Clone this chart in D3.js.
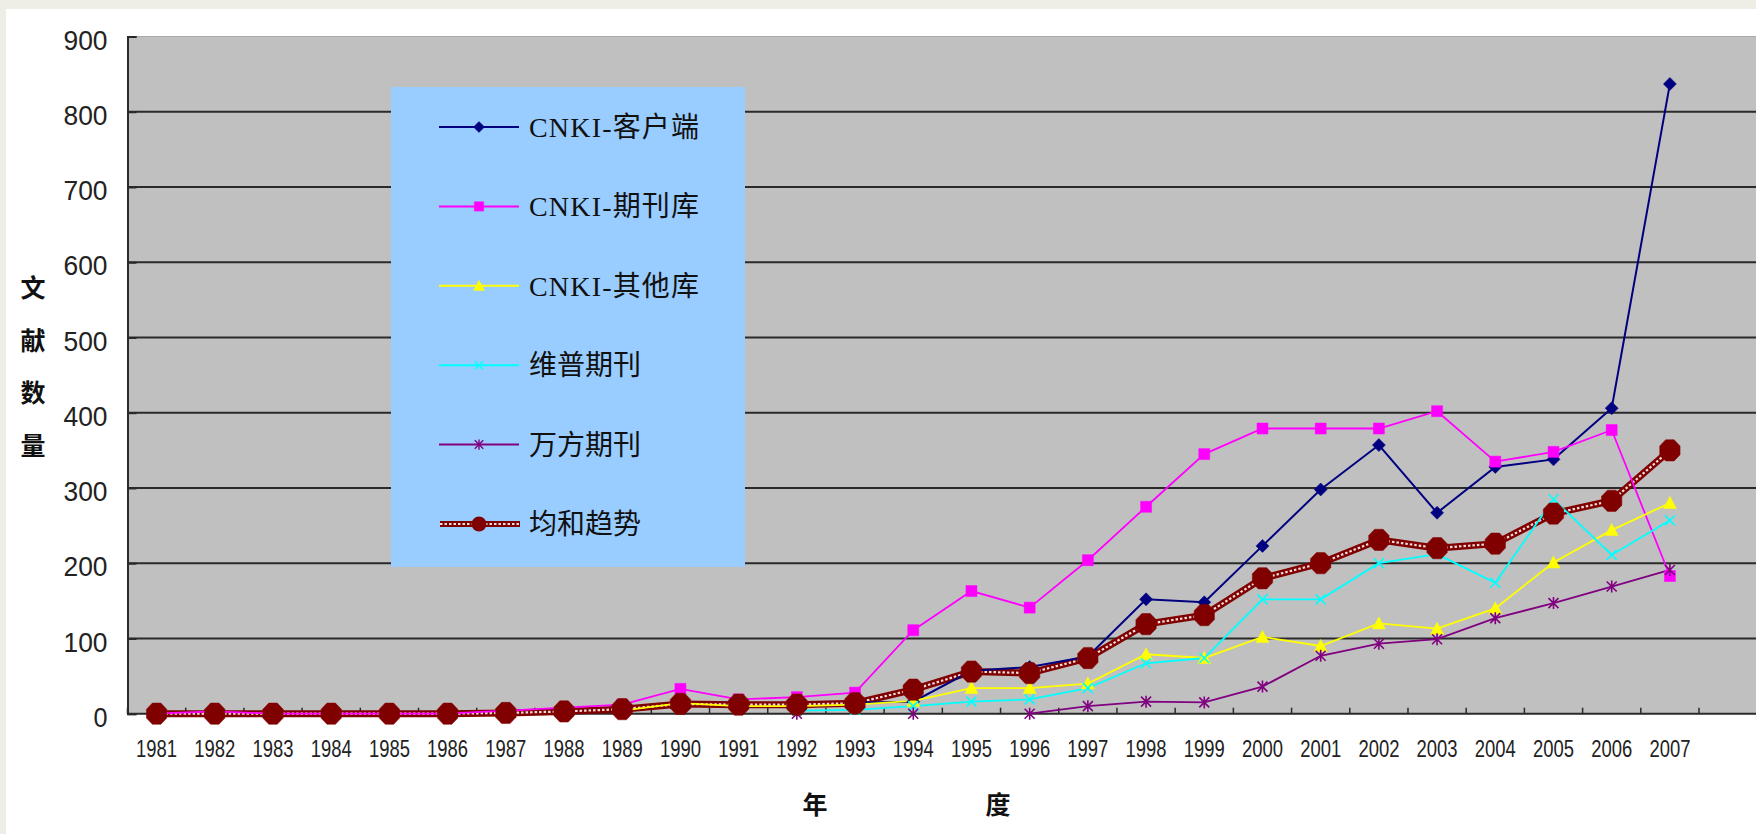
<!DOCTYPE html>
<html><head><meta charset="utf-8">
<script src="https://cdn.jsdelivr.net/npm/d3@7"></script>
<style>html,body{margin:0;padding:0;background:#EFEEE6;overflow:hidden}</style>
</head><body>
<svg id="c" width="1756" height="834"></svg>
<script>
// ---------------- data ----------------
const years = ["1981","1982","1983","1984","1985","1986","1987","1988","1989","1990","1991","1992","1993","1994","1995","1996","1997","1998","1999","2000","2001","2002","2003","2004","2005","2006","2007"];
const seriesNames = ["CNKI-客户端","CNKI-期刊库","CNKI-其他库","维普期刊","万方期刊","均和趋势"];
const cnkiClient = [null,null,null,null,null,null,null,null,null,null,null,null,15,16,57,62,76,152,148,223,298,357,267,328,338,406,837];
const cnkiJournal = [0,3,0,0,0,0,4,8,12,33,19,22,28,111,163,141,204,275,345,379,379,379,402,335,348,377,183];
const cnkiOther = [null,null,null,null,null,null,null,null,4,14,10,10,12,17,34,34,40,79,74,102,90,120,113,140,201,244,280];
const vip = [null,null,null,null,null,null,null,null,null,null,null,4,5,10,16,19,34,67,74,152,152,200,212,174,285,211,257];
const wanfang = [null,null,null,null,null,null,null,null,null,null,null,0,null,0,null,0,10,16,15,36,77,93,99,127,147,169,191];
const trend = [0,0,0,0,0,0,1,3,6,13,12,12,14,32,56,54,74,119,131,180,200,231,220,226,266,283,350];
const yTicks = [0,100,200,300,400,500,600,700,800,900];
const yTitle = ["文","献","数","量"];
const xTitle = ["年","度"];

// ---------------- styles ----------------
const colors = ["#000080","#FF00FF","#FFFF00","#00FFFF","#800080","#800000"];
const markers = ["diamond","square","triangle","x","star","octagon"];
const seriesData = [cnkiClient, cnkiJournal, cnkiOther, vip, wanfang];

const svg = d3.select("#c");
svg.append("rect").attr("x",6).attr("y",9).attr("width",1750).attr("height",825).attr("fill","#fff");

const plot = {left:127.5, top:36.5, bottom:713.7, right:1699, edge:1756};
const x = d3.scaleBand().domain(years).range([plot.left, plot.right]).padding(0);
const y = d3.scaleLinear().domain([0,900]).range([plot.bottom, plot.top]);
const cx = d => x(d) + x.bandwidth()/2;

// plot background
svg.append("rect").attr("x",plot.left).attr("y",plot.top)
  .attr("width",plot.edge-plot.left).attr("height",plot.bottom-plot.top)
  .attr("fill","#C0C0C0");
svg.append("line").attr("x1",plot.left).attr("x2",plot.edge).attr("y1",plot.top).attr("y2",plot.top)
  .attr("stroke","#a8a8a8").attr("stroke-width",1);

// gridlines
svg.append("g").selectAll("line").data(yTicks.filter(t=>t>0 && t<900)).join("line")
  .attr("x1",plot.left).attr("x2",plot.edge)
  .attr("y1",d=>y(d)).attr("y2",d=>y(d))
  .attr("stroke","#2a2a2a").attr("stroke-width",2);

// y axis
const yAxis = svg.append("g").attr("transform",`translate(${plot.left},0)`)
  .call(d3.axisLeft(y).tickValues(yTicks).tickSize(-9).tickPadding(20));
yAxis.select(".domain").attr("stroke","#2a2a2a").attr("stroke-width",2);
yAxis.selectAll(".tick line").attr("stroke","#2a2a2a").attr("stroke-width",2);
yAxis.selectAll("text").attr("font-family","'Liberation Sans',Arial,sans-serif")
  .attr("font-size",28).attr("fill","#222").attr("dy","0.45em")
  .each(function(d){ if(d>=100) d3.select(this).attr("textLength",44).attr("lengthAdjust","spacingAndGlyphs");
                     else d3.select(this).attr("textLength",14).attr("lengthAdjust","spacingAndGlyphs"); });

// x axis
const xAxis = svg.append("g").attr("transform",`translate(0,${plot.bottom})`)
  .call(d3.axisBottom(x).tickSize(0));
xAxis.select(".domain").remove();
xAxis.selectAll("text").attr("font-family","'Liberation Sans',Arial,sans-serif")
  .attr("font-size",23).attr("fill","#222").attr("y",43).attr("dy",0)
  .attr("textLength",41).attr("lengthAdjust","spacingAndGlyphs");
svg.append("line").attr("x1",plot.left).attr("x2",plot.edge).attr("y1",plot.bottom).attr("y2",plot.bottom)
  .attr("stroke","#2a2a2a").attr("stroke-width",2);
const bounds = years.map(d=>x(d)).concat([x(years[years.length-1])+x.bandwidth()]);
svg.append("g").selectAll("line").data(bounds).join("line")
  .attr("x1",d=>d).attr("x2",d=>d).attr("y1",plot.bottom).attr("y2",plot.bottom-6)
  .attr("stroke","#2a2a2a").attr("stroke-width",1.5);

// axis titles
svg.append("g").selectAll("text").data(yTitle).join("text")
  .attr("x",33).attr("y",(d,i)=>286+i*52.5).attr("dominant-baseline","central").attr("text-anchor","middle")
  .attr("font-family","'Noto Sans CJK SC',sans-serif").attr("font-weight","bold").attr("font-size",25).attr("fill","#111")
  .text(d=>d);
svg.append("g").selectAll("text").data(xTitle).join("text")
  .attr("x",(d,i)=>i===0?815:998).attr("y",803).attr("dominant-baseline","central").attr("text-anchor","middle")
  .attr("font-family","'Noto Sans CJK SC',sans-serif").attr("font-weight","bold").attr("font-size",25).attr("fill","#111")
  .text(d=>d);

// marker paths
function markerPath(type){
  switch(type){
    case "diamond": return "M0,-6.5L6.5,0L0,6.5L-6.5,0Z";
    case "square": return "M-5.5,-5.5H5.5V5.5H-5.5Z";
    case "triangle": return "M0,-6.5L6.5,5.5H-6.5Z";
    case "x": return "M-5,-5L5,5M5,-5L-5,5";
    case "star": return "M-5,-5L5,5M5,-5L-5,5M0,-6V6";
    case "octagon": {
      const pts=[]; for(let k=0;k<8;k++){const a=Math.PI/8+k*Math.PI/4; pts.push([11*Math.cos(a),11.5*Math.sin(a)]);}
      return "M"+pts.map(p=>p.join(",")).join("L")+"Z";
    }
  }
}
function drawMarker(g, type, color, scale){
  const p = g.append("path").attr("d",markerPath(type));
  if(scale) p.attr("transform",`scale(${scale})`);
  if(type==="x"||type==="star") p.attr("fill","none").attr("stroke",color).attr("stroke-width",1.6);
  else p.attr("fill",color).attr("stroke",color).attr("stroke-width",0.5);
}

const line = d3.line().defined(d=>d.v!==null).x(d=>cx(d.year)).y(d=>y(d.v));
const toPts = arr => years.map((yr,i)=>({year:yr, v:arr[i]}));

// trend line (bottom)
const trendPts = toPts(trend);
svg.append("path").attr("d",line(trendPts)).attr("fill","none").attr("stroke","#800000").attr("stroke-width",7);
svg.append("path").attr("d",line(trendPts)).attr("fill","none").attr("stroke","#f2dcdc").attr("stroke-width",2.2).attr("stroke-dasharray","2.5,2");

// other series lines
seriesData.forEach((arr,si)=>{
  svg.append("path").attr("d",line(toPts(arr))).attr("fill","none")
    .attr("stroke",colors[si]).attr("stroke-width",si===0?2:1.8);
});
// other series markers
seriesData.forEach((arr,si)=>{
  const g = svg.append("g");
  toPts(arr).filter(d=>d.v!==null).forEach(d=>{
    const m = g.append("g").attr("transform",`translate(${cx(d.year)},${y(d.v)})`);
    drawMarker(m, markers[si], colors[si]);
  });
});
// trend markers
const tg = svg.append("g");
trendPts.forEach(d=>{
  const m = tg.append("g").attr("transform",`translate(${cx(d.year)},${y(d.v)})`);
  drawMarker(m, "octagon", "#800000");
});

// legend
const lg = svg.append("g");
lg.append("rect").attr("x",391).attr("y",87).attr("width",354).attr("height",480).attr("fill","#99CCFF");
seriesNames.forEach((name,i)=>{
  const yy = 127 + i*79.4;
  const g = lg.append("g").attr("transform",`translate(0,${yy})`);
  if(i===5){
    g.append("line").attr("x1",440).attr("x2",520).attr("y1",0).attr("y2",0).attr("stroke","#800000").attr("stroke-width",6);
    g.append("line").attr("x1",440).attr("x2",520).attr("y1",0).attr("y2",0).attr("stroke","#f2dcdc").attr("stroke-width",2).attr("stroke-dasharray","2.5,2");
    g.append("circle").attr("cx",479).attr("cy",0).attr("r",7.5).attr("fill","#800000");
  } else {
    g.append("line").attr("x1",439).attr("x2",519).attr("y1",0).attr("y2",0).attr("stroke",colors[i]).attr("stroke-width",2);
    const m = g.append("g").attr("transform","translate(479,0)");
    drawMarker(m, markers[i], colors[i], 0.85);
  }
  const t = g.append("text").attr("x",529).attr("y",10).attr("font-size",28).attr("fill","#111")
    .attr("font-family","'Liberation Serif','Noto Sans CJK SC',serif").text(name);
  if(name.startsWith("CNKI")) t.attr("textLength",170).attr("lengthAdjust","spacing");
});
</script>
</body></html>
